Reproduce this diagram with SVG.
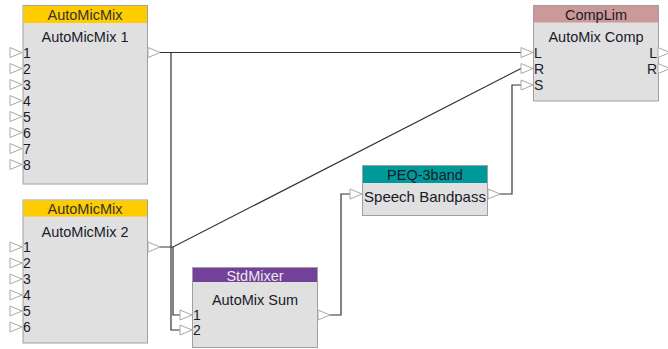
<svg xmlns="http://www.w3.org/2000/svg" width="668" height="349" viewBox="0 0 668 349">
<style>
.body{fill:#e0e0e0;stroke:#a0a0a0;stroke-width:1}
.hdr{stroke:none}
.t{font-family:"Liberation Sans",Arial,sans-serif;font-size:14.5px;fill:#1a1a2a}
.p{font-family:"Liberation Sans",Arial,sans-serif;font-size:14px;fill:#1a1a2a}
.h{font-family:"Liberation Sans",Arial,sans-serif;font-size:14.5px;text-anchor:middle}
.c{text-anchor:middle}
.e{text-anchor:end}
.pin{fill:#ffffff;stroke:#a8a8a8;stroke-width:1}
.w{fill:none;stroke:#333333;stroke-width:1.2}
</style>
<defs>
<path id="tri" class="pin" d="M0,-5 L12,0 L0,5 Z"/>
</defs>
<g id="connectors">
<polyline class="w" points="160,52.5 527,52.5"/>
<polyline class="w" points="171,52.5 171,330 180,330"/>
<polyline class="w" points="160,247 173,247 521,68.5"/>
<polyline class="w" points="173,247 173,315 180,315"/>
<polyline class="w" points="330,315 341,315 341,194 350,194"/>
<polyline class="w" points="500,194 512,194 512,85 521,85"/>
</g>
<g id="amm1">
<rect class="body" x="23" y="5.5" width="124.5" height="178.5"/>
<rect class="hdr" x="23.5" y="6" width="123.5" height="17" fill="#ffcc00"/>
<text class="h" x="85" y="20" fill="#333">AutoMicMix</text>
<text class="t c" x="85" y="42">AutoMicMix 1</text>
<use href="#tri" x="10" y="52.5"/><text class="p" x="23" y="57.5">1</text>
<use href="#tri" x="10" y="68.5"/><text class="p" x="23" y="73.5">2</text>
<use href="#tri" x="10" y="84.5"/><text class="p" x="23" y="89.5">3</text>
<use href="#tri" x="10" y="100.5"/><text class="p" x="23" y="105.5">4</text>
<use href="#tri" x="10" y="116.5"/><text class="p" x="23" y="121.5">5</text>
<use href="#tri" x="10" y="132.5"/><text class="p" x="23" y="137.5">6</text>
<use href="#tri" x="10" y="148.5"/><text class="p" x="23" y="153.5">7</text>
<use href="#tri" x="10" y="164.5"/><text class="p" x="23" y="169.5">8</text>
<use href="#tri" x="148" y="52.5"/>
</g>
<g id="amm2">
<rect class="body" x="23" y="200" width="124.5" height="143"/>
<rect class="hdr" x="23.5" y="200.5" width="123.5" height="16" fill="#ffcc00"/>
<text class="h" x="85" y="213.5" fill="#333">AutoMicMix</text>
<text class="t c" x="85" y="237">AutoMicMix 2</text>
<use href="#tri" x="10" y="247"/><text class="p" x="23" y="252">1</text>
<use href="#tri" x="10" y="263"/><text class="p" x="23" y="268">2</text>
<use href="#tri" x="10" y="279"/><text class="p" x="23" y="284">3</text>
<use href="#tri" x="10" y="295"/><text class="p" x="23" y="300">4</text>
<use href="#tri" x="10" y="311"/><text class="p" x="23" y="316">5</text>
<use href="#tri" x="10" y="327"/><text class="p" x="23" y="332">6</text>
<use href="#tri" x="148" y="247"/>
</g>
<g id="stdmixer">
<rect class="body" x="192.5" y="267.5" width="125" height="80"/>
<rect class="hdr" x="193" y="268" width="124" height="14" fill="#74419a"/>
<text class="h" x="255" y="280.5" fill="#e8e8e8">StdMixer</text>
<text class="t c" x="255" y="305">AutoMix Sum</text>
<use href="#tri" x="180" y="315"/><text class="p" x="193" y="320">1</text>
<use href="#tri" x="180" y="330"/><text class="p" x="193" y="335">2</text>
<use href="#tri" x="318" y="315"/>
</g>
<g id="peq">
<rect class="body" x="362.5" y="165.5" width="125" height="50"/>
<rect class="hdr" x="363" y="166" width="124" height="17" fill="#009999"/>
<text class="h" x="425" y="179.5" fill="#1a1a2a">PEQ-3band</text>
<text class="t" x="364" y="202" textLength="122" lengthAdjust="spacingAndGlyphs">Speech Bandpass</text>
<use href="#tri" x="350" y="194"/>
<use href="#tri" x="488" y="194"/>
</g>
<g id="complim">
<rect class="body" x="533.5" y="5.5" width="125" height="95.5"/>
<rect class="hdr" x="534" y="6" width="124" height="16.5" fill="#cc9999"/>
<text class="h" x="596" y="19.5" fill="#1a1a2a">CompLim</text>
<text class="t c" x="596" y="42">AutoMix Comp</text>
<use href="#tri" x="521" y="52.5"/><text class="p" x="534" y="57.5">L</text>
<use href="#tri" x="521" y="68.5"/><text class="p" x="534" y="73.5">R</text>
<use href="#tri" x="521" y="85"/><text class="p" x="534" y="90">S</text>
<text class="p e" x="657" y="57.5">L</text>
<text class="p e" x="657" y="73.5">R</text>
<use href="#tri" x="658" y="52.5"/>
<use href="#tri" x="658" y="68.5"/>
</g>
</svg>
